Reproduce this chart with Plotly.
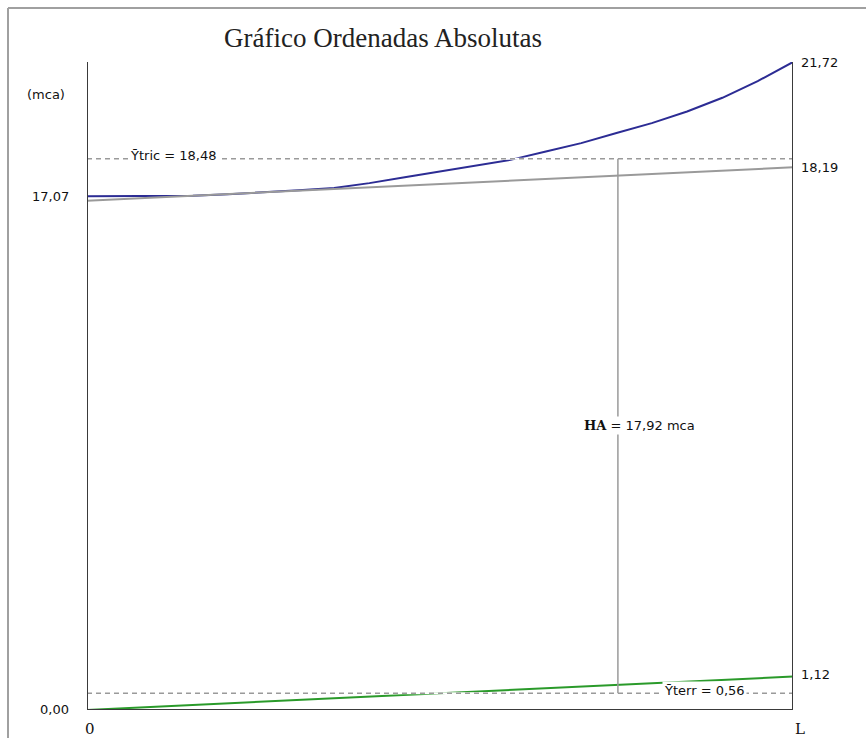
import plotly.graph_objects as go

# Stations along the pipe, as fractions of its length L
stations = [0.00, 0.05, 0.10, 0.15, 0.20, 0.25, 0.30, 0.35, 0.40, 0.45, 0.50,
            0.55, 0.60, 0.65, 0.70, 0.75, 0.80, 0.85, 0.90, 0.95, 1.00]

# Absolute ordinates (mca)
piezometric = [17.22, 17.22, 17.22, 17.24, 17.29, 17.35, 17.42, 17.50, 17.66, 17.86, 18.05,
               18.24, 18.44, 18.72, 19.00, 19.34, 19.67, 20.06, 20.52, 21.08, 21.72]
friction_ends = [0.0, 1.0]
friction = [17.07, 18.19]
terrain_ends = [0.0, 1.0]
terrain = [0.00, 1.12]

y_fric_mean = 18.48
y_terr_mean = 0.56
ha_station = 0.752
ha_value = 17.92
y_top = 21.72

# Plot area in pixels, used to place items outside it in paper units
W, H = 866, 738
L_PX, R_PX, T_PX, B_PX = 87, 793, 62, 710


def px_x(p):
    return (p - L_PX) / (R_PX - L_PX)


def px_y(p):
    return (B_PX - p) / (B_PX - T_PX)


fig = go.Figure()
fig.add_trace(go.Scatter(x=stations, y=piezometric, mode="lines",
                         line=dict(color="#2c2c94", width=2), cliponaxis=False, hoverinfo="skip"))
fig.add_trace(go.Scatter(x=terrain_ends, y=terrain, mode="lines",
                         line=dict(color="#2a9a2a", width=2), cliponaxis=False, hoverinfo="skip"))
fig.add_trace(go.Scatter(x=friction_ends, y=friction, mode="lines",
                         line=dict(color="#9a9a9a", width=2), cliponaxis=False, hoverinfo="skip"))

# Mean lines: a white underlay then grey dashes on top
for yv in (y_fric_mean, y_terr_mean):
    fig.add_shape(type="line", x0=0, x1=1, y0=yv, y1=yv, xref="x", yref="y",
                  line=dict(color="white", width=2))
    fig.add_shape(type="line", x0=0, x1=1, y0=yv, y1=yv, xref="x", yref="y",
                  line=dict(color="#9a9a9a", width=1.5, dash="5px,4px"))

# Available head marker
fig.add_shape(type="line", x0=ha_station, x1=ha_station, y0=y_terr_mean, y1=y_fric_mean,
              xref="x", yref="y", line=dict(color="#9a9a9a", width=1.5))

# Frame axes
axis_col = "#3a3a3a"
fig.add_shape(type="line", x0=0, x1=0, y0=0, y1=y_top, xref="x", yref="y",
              line=dict(color=axis_col, width=2))
fig.add_shape(type="line", x0=1, x1=1, y0=0, y1=y_top, xref="x", yref="y",
              line=dict(color=axis_col, width=2))
fig.add_shape(type="line", x0=0, x1=1, y0=0, y1=0, xref="x", yref="y",
              line=dict(color=axis_col, width=2))

# Outer panel border (top and left)
fig.add_shape(type="line", x0=px_x(8), x1=px_x(W + 5), y0=px_y(8), y1=px_y(8), xref="paper",
              yref="paper", line=dict(color="#a0a0a0", width=2))
fig.add_shape(type="line", x0=px_x(8), x1=px_x(8), y0=px_y(8), y1=px_y(H + 5), xref="paper",
              yref="paper", line=dict(color="#a0a0a0", width=2))

sans = dict(family="DejaVu Sans, Verdana, sans-serif", size=13, color="#111")
serif = dict(family="DejaVu Serif, serif", size=15, color="#111")


def label(text, x, y, xanchor="center", yanchor="middle", xshift=0, yshift=0, font=sans, bg=None):
    fig.add_annotation(text=text, x=x, y=y, xref="x", yref="y", showarrow=False,
                       xanchor=xanchor, yanchor=yanchor, xshift=xshift, yshift=yshift,
                       font=font, bgcolor=bg, borderpad=1)


label("21,72", 1, piezometric[-1], xanchor="left", xshift=6)
label("18,19", 1, friction[-1], xanchor="left", xshift=6)
label("1,12", 1, terrain[-1], xanchor="left", xshift=6, yshift=2)
label("17,07", 0, friction[0], xanchor="right", xshift=-16, yshift=4)
label("0,00", 0, terrain[0], xanchor="right", xshift=-16, yshift=1)
label("(mca)", 0, 20.62, xanchor="right", xshift=-20)
label("Ȳtric = 18,48", 0.122, y_fric_mean, yshift=3, bg="white")
label("Ȳterr = 0,56", 0.875, y_terr_mean, yshift=3, bg="white")
label('<span style="font-family:DejaVu Serif;font-weight:bold">HA</span> = '
      + f"{ha_value:.2f}".replace(".", ",") + " mca", 0.782, 9.55, bg="white")
label("0", 0, 0, yanchor="top", xshift=3, yshift=-8, font=serif)
label("L", 1, 0, yanchor="top", xshift=7, yshift=-8, font=serif)

fig.add_annotation(text="Gráfico Ordenadas Absolutas", x=px_x(383), y=px_y(38),
                   xref="paper", yref="paper", showarrow=False, xanchor="center",
                   yanchor="middle",
                   font=dict(family="Liberation Serif, Times New Roman, serif", size=27,
                             color="#222"))

fig.update_xaxes(range=[0, 1], visible=False, fixedrange=True)
fig.update_yaxes(range=[0, y_top], visible=False, fixedrange=True)
fig.update_layout(width=W, height=H, showlegend=False,
                  margin=dict(l=L_PX, r=W - R_PX, t=T_PX, b=H - B_PX),
                  paper_bgcolor="white", plot_bgcolor="white")

fig.write_html("out.html")
